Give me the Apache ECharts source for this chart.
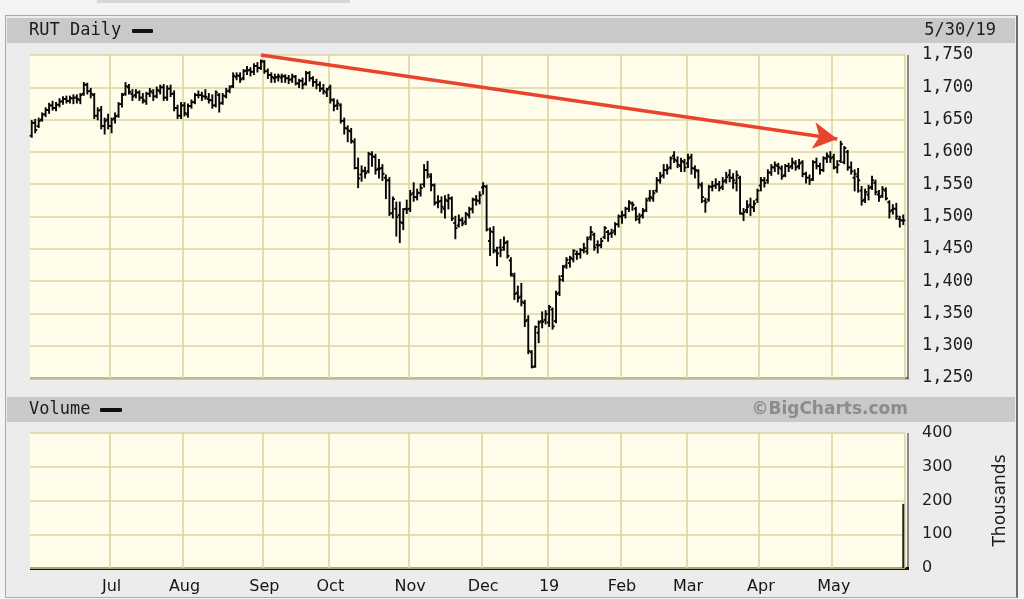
<!DOCTYPE html>
<html>
<head>
<meta charset="utf-8">
<script src="https://cdn.jsdelivr.net/npm/echarts/dist/echarts.min.js"></script>
<style>
  html, body { margin: 0; padding: 0; background: #f4f4f4; }
  #wrap { position: relative; width: 1024px; height: 599px; overflow: hidden; }
  .bx { position: absolute; }
  #c { position: absolute; left: 0; top: 0; width: 1024px; height: 599px; }
</style>
</head>
<body>
<div id="wrap">
  <div class="bx" style="left:97px;top:0;width:253px;height:3px;background:#d6d6d6"></div>
  <div class="bx" style="left:5px;top:15px;width:1010px;height:581px;background:#ececec;border:1px solid #a9a9a9;border-right:2px solid #6d6d6d"></div>
  <div class="bx" style="left:7px;top:18px;width:1008px;height:25px;background:#c9c9c9"></div>
  <div class="bx" style="left:7px;top:397px;width:1008px;height:25px;background:#c9c9c9"></div>
  <!-- plot panels -->
  <div class="bx" style="left:30px;top:55px;width:878px;height:323px;background:#fffde9"></div>
  <div class="bx" style="left:30px;top:433px;width:878px;height:135px;background:#fffde9"></div>
  <div class="bx" style="left:907px;top:55px;width:2px;height:324px;background:#8a8a8a"></div>
  <div class="bx" style="left:30px;top:377px;width:879px;height:2px;background:#6e6e6e"></div>
  <div class="bx" style="left:30px;top:379px;width:880px;height:1px;background:#c4c4c4"></div>
  <div class="bx" style="left:907px;top:433px;width:2px;height:136px;background:#8a8a8a"></div>
  <div class="bx" style="left:30px;top:567px;width:879px;height:3px;background:#151515"></div>
  <div id="c"></div>
</div>
<script>
// ---- Data: RUT daily OHLC, [day, open, high, low, close] per month ----
const may18 = [[30,1625,1648,1623,1645],[31,1645,1650,1630,1634]];
const jun18 = [[1,1640,1652,1638,1648],[4,1650,1660,1648,1658],[5,1658,1668,1655,1665],[6,1665,1675,1660,1672],[7,1672,1678,1665,1668],[8,1668,1676,1664,1673],[11,1673,1682,1670,1678],[12,1678,1685,1674,1682],[13,1682,1686,1676,1679],[14,1679,1686,1676,1683],[15,1683,1688,1675,1684],[18,1684,1688,1676,1682],[19,1680,1690,1675,1688],[20,1690,1707,1688,1704],[21,1704,1706,1690,1694],[22,1694,1698,1684,1690],[25,1688,1690,1652,1656],[26,1656,1668,1650,1664],[27,1665,1670,1636,1640],[28,1640,1652,1628,1648],[29,1650,1658,1636,1640]];
const jul18 = [[2,1640,1652,1630,1650],[3,1652,1660,1645,1655],[5,1656,1676,1654,1674],[6,1674,1690,1670,1688],[9,1690,1707,1688,1702],[10,1700,1704,1690,1693],[11,1690,1696,1680,1686],[12,1688,1696,1684,1692],[13,1692,1694,1680,1684],[16,1684,1690,1676,1680],[17,1678,1692,1674,1690],[18,1690,1698,1686,1694],[19,1692,1696,1680,1686],[20,1686,1700,1684,1696],[23,1694,1703,1690,1700],[24,1700,1704,1680,1684],[25,1684,1702,1680,1698],[26,1698,1703,1686,1690],[27,1690,1694,1664,1668],[30,1668,1672,1652,1656],[31,1656,1676,1652,1672]];
const aug18 = [[1,1672,1676,1656,1660],[2,1658,1674,1654,1671],[3,1671,1680,1668,1677],[6,1677,1690,1675,1688],[7,1688,1694,1684,1688],[8,1688,1692,1680,1686],[9,1686,1696,1682,1685],[10,1682,1690,1676,1680],[13,1680,1688,1668,1672],[14,1672,1694,1670,1692],[15,1688,1690,1662,1675],[16,1676,1690,1674,1687],[17,1686,1698,1684,1694],[20,1695,1702,1692,1700],[21,1702,1722,1700,1718],[22,1716,1722,1712,1718],[23,1718,1722,1708,1712],[24,1714,1727,1712,1725],[27,1726,1732,1720,1726],[28,1727,1730,1718,1724],[29,1724,1736,1720,1733],[30,1733,1738,1724,1730],[31,1730,1742,1728,1740]];
const sep18 = [[4,1740,1741,1722,1725],[5,1725,1728,1714,1719],[6,1719,1722,1708,1716],[7,1714,1720,1708,1715],[10,1716,1720,1710,1717],[11,1715,1720,1708,1717],[12,1717,1719,1708,1714],[13,1714,1718,1706,1712],[14,1712,1720,1708,1717],[17,1716,1718,1704,1706],[18,1706,1712,1700,1710],[19,1710,1714,1698,1704],[20,1706,1724,1704,1722],[21,1722,1724,1710,1714],[24,1714,1716,1702,1708],[25,1708,1712,1698,1704],[26,1704,1708,1694,1698],[27,1698,1704,1690,1694],[28,1692,1698,1686,1697]];
const oct18 = [[1,1700,1703,1676,1681],[2,1680,1682,1664,1671],[3,1672,1680,1666,1675],[4,1672,1674,1645,1648],[5,1648,1652,1628,1637],[8,1636,1640,1616,1633],[9,1632,1636,1614,1617],[10,1615,1620,1574,1575],[11,1575,1590,1545,1559],[12,1565,1578,1555,1571],[15,1570,1576,1560,1567],[16,1570,1599,1568,1597],[17,1596,1600,1578,1593],[18,1592,1596,1566,1572],[19,1574,1588,1560,1574],[22,1575,1580,1556,1566],[23,1560,1564,1528,1556],[24,1556,1560,1502,1505],[25,1505,1530,1498,1527],[26,1512,1522,1470,1499],[29,1502,1522,1460,1491],[30,1490,1512,1480,1511],[31,1512,1525,1505,1511]];
const nov18 = [[1,1512,1540,1508,1534],[2,1536,1552,1524,1530],[5,1530,1542,1526,1537],[6,1536,1550,1532,1544],[7,1550,1580,1546,1572],[8,1572,1585,1560,1565],[9,1562,1566,1540,1549],[12,1548,1550,1518,1521],[13,1522,1532,1514,1523],[14,1524,1530,1506,1515],[15,1512,1532,1498,1526],[16,1524,1534,1512,1528],[19,1528,1530,1494,1497],[20,1490,1500,1466,1482],[21,1486,1502,1484,1495],[23,1494,1498,1486,1489],[26,1492,1506,1488,1504],[27,1502,1514,1498,1511],[28,1512,1528,1506,1526],[29,1526,1532,1518,1525],[30,1524,1538,1520,1533]];
const dec18 = [[3,1545,1552,1535,1547],[4,1546,1548,1478,1480],[6,1462,1482,1440,1477],[7,1476,1484,1444,1448],[10,1446,1452,1424,1443],[11,1452,1464,1438,1448],[12,1452,1468,1448,1459],[13,1460,1462,1436,1439],[14,1432,1436,1408,1411],[17,1408,1412,1372,1380],[18,1382,1392,1368,1374],[19,1376,1396,1362,1368],[20,1366,1370,1330,1338],[21,1340,1346,1288,1292],[24,1290,1292,1266,1267],[26,1268,1330,1267,1329],[27,1320,1338,1305,1336],[28,1338,1352,1328,1337],[31,1340,1354,1334,1349]];
const jan19 = [[2,1336,1362,1330,1360],[3,1356,1358,1326,1330],[4,1338,1384,1336,1380],[7,1382,1408,1378,1402],[8,1408,1424,1400,1422],[9,1424,1436,1420,1433],[10,1428,1438,1422,1436],[11,1434,1448,1430,1447],[14,1442,1446,1434,1442],[15,1442,1450,1436,1448],[16,1448,1458,1444,1451],[17,1446,1468,1442,1465],[18,1468,1484,1464,1476],[22,1472,1474,1448,1452],[23,1456,1462,1444,1455],[24,1456,1466,1452,1462],[25,1468,1484,1466,1482],[28,1476,1478,1462,1473],[29,1474,1480,1468,1475],[30,1478,1490,1472,1488],[31,1488,1502,1484,1500]];
const feb19 = [[1,1500,1508,1490,1502],[4,1502,1514,1498,1512],[5,1512,1524,1508,1522],[6,1520,1522,1510,1518],[7,1512,1514,1494,1500],[8,1496,1504,1490,1500],[11,1502,1512,1498,1508],[12,1510,1528,1508,1525],[13,1528,1540,1524,1530],[14,1528,1540,1524,1536],[15,1540,1560,1538,1556],[19,1556,1568,1552,1562],[20,1564,1580,1560,1572],[21,1572,1580,1566,1574],[22,1576,1592,1574,1590],[25,1594,1600,1584,1588],[26,1586,1592,1576,1580],[27,1578,1590,1570,1586],[28,1584,1588,1570,1576]];
const mar19 = [[1,1582,1596,1576,1590],[4,1592,1596,1566,1575],[5,1574,1578,1560,1572],[6,1570,1572,1544,1550],[7,1548,1552,1522,1530],[8,1524,1528,1507,1522],[11,1526,1548,1524,1546],[12,1546,1554,1540,1547],[13,1548,1558,1544,1550],[14,1550,1554,1540,1544],[15,1546,1560,1542,1554],[18,1556,1568,1552,1561],[19,1564,1572,1554,1560],[20,1560,1566,1544,1556],[21,1552,1570,1540,1564],[22,1560,1562,1504,1505],[25,1504,1512,1494,1507],[26,1510,1524,1506,1515],[27,1518,1528,1502,1515],[28,1514,1524,1508,1520],[29,1526,1542,1522,1540]];
const apr19 = [[1,1548,1560,1540,1556],[2,1556,1560,1546,1552],[3,1556,1572,1552,1568],[4,1568,1580,1564,1576],[5,1576,1584,1570,1580],[8,1578,1582,1566,1576],[9,1574,1578,1558,1562],[10,1564,1580,1562,1578],[11,1578,1582,1570,1576],[12,1578,1590,1574,1584],[15,1582,1586,1572,1576],[16,1578,1588,1574,1582],[17,1584,1586,1562,1566],[18,1566,1568,1552,1560],[22,1560,1564,1550,1556],[23,1558,1586,1556,1584],[24,1584,1590,1574,1578],[25,1578,1582,1566,1572],[26,1572,1592,1570,1590],[29,1590,1598,1584,1594],[30,1592,1600,1584,1590]];
const may19 = [[1,1592,1596,1574,1576],[2,1576,1586,1568,1580],[3,1586,1616,1584,1612],[6,1584,1608,1582,1606],[7,1600,1602,1572,1576],[8,1576,1584,1566,1570],[9,1560,1572,1540,1566],[10,1562,1574,1538,1556],[13,1540,1546,1518,1524],[14,1526,1542,1522,1538],[15,1534,1548,1526,1544],[16,1546,1562,1542,1556],[17,1552,1556,1534,1538],[20,1534,1540,1524,1530],[21,1532,1546,1530,1542],[22,1540,1544,1526,1528],[23,1522,1524,1498,1508],[24,1510,1518,1504,1512],[28,1512,1520,1496,1500],[29,1496,1500,1484,1494],[30,1494,1502,1488,1494]];

// Volume (thousands): only the last session shows a bar
const volumeDates = ['2019-05-30'];
const volumeValues = [190];

// Month tick positions and labels on the x axis
const monthTicks = ['2018-07-02','2018-08-01','2018-09-04','2018-10-01','2018-11-01','2018-12-03','2019-01-02','2019-02-01','2019-03-01','2019-04-01','2019-05-01'];
const monthLabels = ['Jul','Aug','Sep','Oct','Nov','Dec','19','Feb','Mar','Apr','May'];

// Axis ranges
const priceMin = 1250, priceMax = 1750, priceStep = 50;
const volMin = 0, volMax = 400, volStep = 100;

// Trend arrow endpoints (annotation)
const arrowStart = ['2018-08-31', 1750];
const arrowEnd = ['2019-05-02', 1620];

// ---- Build ----
const monthBlocks = [['2018-05', may18],['2018-06', jun18],['2018-07', jul18],['2018-08', aug18],['2018-09', sep18],['2018-10', oct18],['2018-11', nov18],['2018-12', dec18],['2019-01', jan19],['2019-02', feb19],['2019-03', mar19],['2019-04', apr19],['2019-05', may19]];
const dates = [];
const bars = [];
monthBlocks.forEach(([ym, rows]) => rows.forEach(r => {
  const d = ym + '-' + String(r[0]).padStart(2, '0');
  dates.push(d);
  bars.push([d, r[1], r[2], r[3], r[4]]);
}));

const tickSet = new Set(monthTicks);
const labelOf = {};
monthTicks.forEach((d, i) => { labelOf[d] = monthLabels[i]; });
const isTick = (idx, val) => tickSet.has(val);

const gridColor = '#d9d5a2';
const MONO = '"DejaVu Sans Mono", monospace';
const SANS = '"DejaVu Sans", sans-serif';

const chart = echarts.init(document.getElementById('c'), null, { renderer: 'canvas' });

const option = {
  animation: false,
  backgroundColor: 'transparent',
  graphic: [
    { type: 'text', x: 29, y: 31, z: 100, style: { text: 'RUT Daily', font: '17px ' + MONO, fill: '#1c1c1c', align: 'left', verticalAlign: 'middle', textAlign: 'left', textVerticalAlign: 'middle' } },
    { type: 'rect', z: 100, shape: { x: 132, y: 29, width: 21, height: 4, r: 1 }, style: { fill: '#111' } },
    { type: 'text', x: 996, y: 31, z: 100, style: { text: '5/30/19', font: '17px ' + MONO, fill: '#1c1c1c', align: 'right', verticalAlign: 'middle', textAlign: 'right', textVerticalAlign: 'middle' } },
    { type: 'text', x: 29, y: 410, z: 100, style: { text: 'Volume', font: '17px ' + MONO, fill: '#1c1c1c', align: 'left', verticalAlign: 'middle', textAlign: 'left', textVerticalAlign: 'middle' } },
    { type: 'rect', z: 100, shape: { x: 100, y: 408, width: 22, height: 4, r: 1 }, style: { fill: '#111' } },
    { type: 'text', x: 908, y: 410, z: 100, style: { text: '\u00A9BigCharts.com', font: 'bold 17px ' + SANS, fill: '#8c8c8c', align: 'right', verticalAlign: 'middle', textAlign: 'right', textVerticalAlign: 'middle' } }
  ],
  grid: [
    { left: 30, top: 55, width: 875, height: 323, show: false },
    { left: 30, top: 433, width: 875, height: 135, show: false }
  ],
  xAxis: [
    {
      type: 'category', gridIndex: 0, data: dates, boundaryGap: true,
      axisLine: { show: false }, axisTick: { show: false }, axisLabel: { show: false },
      splitLine: { show: true, interval: isTick, lineStyle: { color: gridColor, width: 1.6 } }
    },
    {
      type: 'category', gridIndex: 1, data: dates, boundaryGap: true,
      axisLine: { show: false }, axisTick: { show: false },
      axisLabel: { show: true, interval: isTick, formatter: v => labelOf[v] || '', margin: 11, color: '#151515', fontFamily: SANS, fontSize: 16 },
      splitLine: { show: true, interval: isTick, lineStyle: { color: gridColor, width: 1.6 } }
    }
  ],
  yAxis: [
    {
      type: 'value', gridIndex: 0, position: 'right', min: priceMin, max: priceMax, interval: priceStep,
      axisLine: { show: false }, axisTick: { show: false },
      axisLabel: { margin: 17, color: '#1c1c1c', fontFamily: MONO, fontSize: 17, formatter: v => v.toLocaleString('en-US') },
      splitLine: { show: true, lineStyle: { color: gridColor, width: 1.6 } }
    },
    {
      type: 'value', gridIndex: 1, position: 'right', min: volMin, max: volMax, interval: volStep,
      name: 'Thousands', nameLocation: 'middle', nameRotate: 90, nameGap: 87,
      nameTextStyle: { color: '#1c1c1c', fontFamily: SANS, fontSize: 17 },
      axisLine: { show: false }, axisTick: { show: false },
      axisLabel: { margin: 17, color: '#1c1c1c', fontFamily: SANS, fontSize: 16 },
      splitLine: { show: true, lineStyle: { color: gridColor, width: 1.6 } }
    }
  ],
  series: [
    {
      type: 'custom', name: 'RUT', xAxisIndex: 0, yAxisIndex: 0, z: 5,
      data: bars,
      encode: { x: 0, y: [1, 2, 3, 4] },
      renderItem: (params, api) => {
        const i = api.value(0);
        const o = api.coord([i, api.value(1)]);
        const h = api.coord([i, api.value(2)]);
        const l = api.coord([i, api.value(3)]);
        const c = api.coord([i, api.value(4)]);
        const bw = api.size([1, 0])[0];
        const x = o[0];
        const t = bw * 0.6;
        const st = { stroke: '#050505', lineWidth: 1.9 };
        return {
          type: 'group',
          children: [
            { type: 'line', shape: { x1: x, y1: h[1] - 0.7, x2: x, y2: l[1] + 0.7 }, style: st },
            { type: 'line', shape: { x1: x - t, y1: o[1], x2: x, y2: o[1] }, style: st },
            { type: 'line', shape: { x1: x, y1: c[1], x2: x + t, y2: c[1] }, style: st }
          ]
        };
      }
    },
    {
      type: 'line', name: 'trend', xAxisIndex: 0, yAxisIndex: 0, z: 10,
      data: [arrowStart, arrowEnd], silent: true, showSymbol: false, symbol: 'none',
      lineStyle: { opacity: 0, width: 0 },
      markLine: {
        silent: true, animation: false,
        symbol: ['none', 'arrow'], symbolSize: [20, 24],
        label: { show: false },
        lineStyle: { color: '#e8432c', width: 3.5, type: 'solid', opacity: 1 },
        data: [[{ coord: arrowStart }, { coord: arrowEnd }]]
      }
    },
    {
      type: 'bar', name: 'Volume', xAxisIndex: 1, yAxisIndex: 1,
      data: volumeDates.map((d, i) => [d, volumeValues[i]]),
      barWidth: 2, itemStyle: { color: '#222' }
    }
  ]
};
chart.setOption(option);
</script>
</body>
</html>
